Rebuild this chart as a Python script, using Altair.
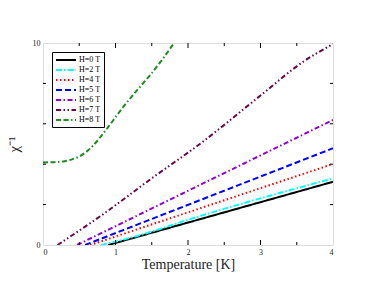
import altair as alt
import pandas as pd

# ---- data ----
labels = ["H=0 T", "H=2 T", "H=4 T", "H=5 T", "H=6 T", "H=7 T", "H=8 T"]
colors = ["#000000", "#00FFFF", "#FF0000", "#0000FF", "#9400D3", "#670748", "#228B22"]
dashes = [[1, 0], [6, 2, 1.5, 2], [1.5, 2.5], [6, 3], [5, 2.5, 1.5, 2.5],
          [5, 2.5, 1.5, 2.5, 1.5, 2.5], [5, 2.5, 5, 2.5, 1.5, 2.5]]

T0 = [0.9, 4.0]
C0 = [0.0, 3.13]
T2 = [0.8, 1.2, 2.17, 4.0]
C2 = [0.0, 0.35, 1.44, 3.3]
T4 = [0.65, 4.0]
C4 = [0.0, 4.01]
T5 = [0.58, 4.0]
C5 = [0.0, 4.79]
T6 = [0.47, 4.0]
C6 = [0.0, 6.19]
T7 = [0.2, 0.8, 1.5, 2.2, 3.0, 3.6, 4.0]
C7 = [0.0, 1.45, 3.3, 5.1, 7.4, 9.1, 9.95]
T8 = [0.0, 0.15, 0.3, 0.4, 0.51, 0.6, 0.69, 0.88, 1.11, 1.34, 1.48, 1.65, 1.81, 1.9]
C8 = [4.09, 4.1, 4.15, 4.24, 4.4, 4.62, 4.92, 5.75, 6.85, 7.84, 8.42, 9.2, 10.0, 10.4]

x_major = [1, 2, 3]
x_minor = [0.5, 1.5, 2.5, 3.5]
y_minor = [2, 4, 6, 8]
x_labels = [0, 1, 2, 3, 4]
y_labels = [0, 10]

series = [(T0, C0), (T2, C2), (T4, C4), (T5, C5), (T6, C6), (T7, C7), (T8, C8)]
rows = []
for lab, (ts, cs) in zip(labels, series):
    for i, (t, c) in enumerate(zip(ts, cs)):
        rows.append({"T": t, "chi": c, "H": lab, "i": i})
df = pd.DataFrame(rows)

W, H = 290, 202
FONT = "Liberation Serif"

xs = alt.Scale(domain=[0, 4], nice=False, zero=False)
ys = alt.Scale(domain=[0, 10], nice=False, zero=False)

x_axis = alt.Axis(values=x_labels, ticks=False, grid=False, domain=False,
                  labelFont=FONT, labelFontSize=8, labelColor="#222",
                  labelPadding=3, title="Temperature [K]",
                  titleFont=FONT, titleFontSize=14, titleFontWeight="normal",
                  titleColor="#222", titlePadding=1)
y_axis = alt.Axis(values=y_labels, ticks=False, grid=False, domain=False,
                  labelFont=FONT, labelFontSize=8, labelColor="#222",
                  labelPadding=3, title="χ⁻¹",
                  titleFont=FONT, titleFontSize=15, titleFontWeight="normal",
                  titleColor="#222", titlePadding=11)

lines = alt.Chart(df).mark_line(clip=True, strokeWidth=2, interpolate="monotone").encode(
    x=alt.X("T:Q", scale=xs, axis=x_axis),
    y=alt.Y("chi:Q", scale=ys, axis=y_axis),
    color=alt.Color("H:N", scale=alt.Scale(domain=labels, range=colors),
                    legend=alt.Legend(title=None, orient="none", legendX=9, legendY=9,
                                      fillColor="white", strokeColor="black",
                                      padding=3, rowPadding=1,
                                      labelFont=FONT, labelFontSize=8, labelColor="black",
                                      symbolType="M-1,0L4,0", symbolSize=64,
                                      symbolStrokeWidth=2, labelOffset=14)),
    strokeDash=alt.StrokeDash("H:N", scale=alt.Scale(domain=labels, range=dashes),
                              legend=alt.Legend(title=None)),
    order="i:Q",
)

def xticks(vals, length):
    d = pd.DataFrame({"T": vals})
    b = alt.Chart(d).mark_rule(color="black", strokeWidth=1).encode(
        x=alt.X("T:Q", scale=xs, axis=x_axis), y=alt.value(H), y2=alt.value(H - length))
    t = alt.Chart(d).mark_rule(color="black", strokeWidth=1).encode(
        x=alt.X("T:Q", scale=xs, axis=x_axis), y=alt.value(0), y2=alt.value(length))
    return [b, t]

def yticks(vals, length):
    d = pd.DataFrame({"chi": vals})
    l = alt.Chart(d).mark_rule(color="black", strokeWidth=1).encode(
        y=alt.Y("chi:Q", scale=ys, axis=y_axis), x=alt.value(0), x2=alt.value(length))
    r = alt.Chart(d).mark_rule(color="black", strokeWidth=1).encode(
        y=alt.Y("chi:Q", scale=ys, axis=y_axis), x=alt.value(W), x2=alt.value(W - length))
    return [l, r]

layers = [lines] + xticks(x_major, 5) + xticks(x_minor, 3) + yticks(y_minor, 3)

chart = alt.layer(*layers).properties(
    width=W, height=H,
    autosize=alt.AutoSizeParams(type="none"),
    padding={"left": 35, "top": 35, "right": 33, "bottom": 28},
).configure_view(stroke="black", strokeWidth=1).configure(background="white")

chart.save("out.html", embed_options={"renderer": "svg", "actions": False})
